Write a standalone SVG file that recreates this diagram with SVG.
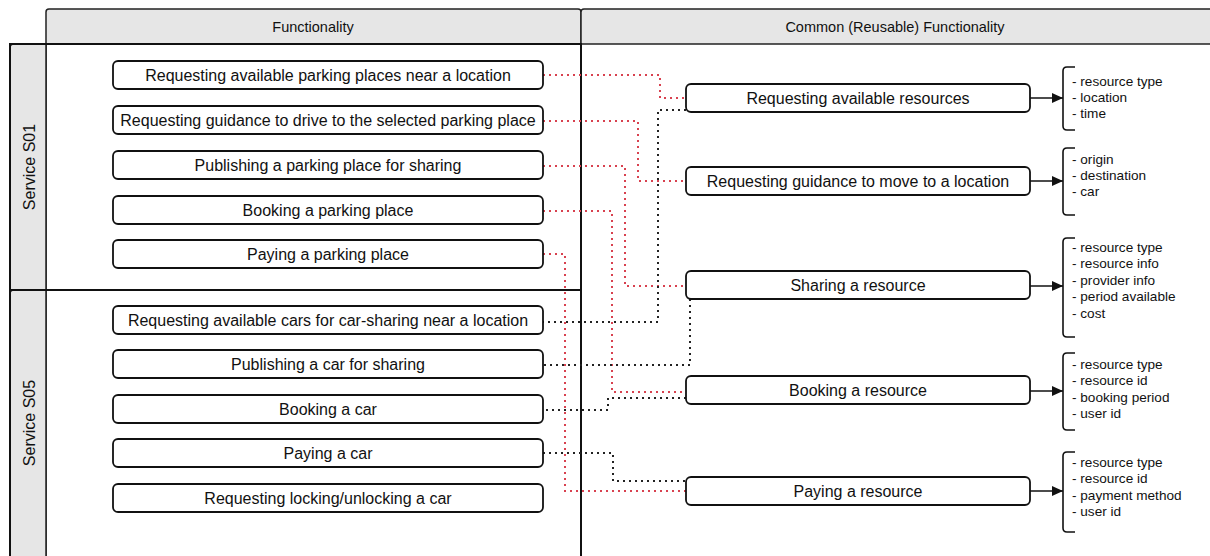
<svg xmlns="http://www.w3.org/2000/svg" width="1210" height="556" viewBox="0 0 1210 556">
<defs>
<style>
.hdr{fill:#e6e6e6;stroke:#222;stroke-width:1.5}
.lane{fill:none;stroke:#111;stroke-width:2}
.strip{fill:#e6e6e6;stroke:#222;stroke-width:1.5}
.box{fill:#fff;stroke:#111;stroke-width:1.8}
.t{font-family:"Liberation Sans",Arial,sans-serif;fill:#111;text-anchor:middle;dominant-baseline:central}
.bt{font-size:16px}
.ht{font-size:14.5px}
.st{font-size:16px}
.lt{font-family:"Liberation Sans",Arial,sans-serif;fill:#111;font-size:13.6px}
.red{fill:none;stroke:#d8414f;stroke-width:2;stroke-dasharray:2 4}
.blk{fill:none;stroke:#222;stroke-width:2;stroke-dasharray:2 4}
.arr{fill:none;stroke:#111;stroke-width:1.6}
.brace{fill:none;stroke:#111;stroke-width:1.6}
</style>
<marker id="ah" markerWidth="12" markerHeight="12" refX="11" refY="6" orient="auto" markerUnits="userSpaceOnUse">
<path d="M0,1 L11,6 L0,11 Z" fill="#111"/>
</marker>
</defs>
<rect width="1210" height="556" fill="#fff"/>

<g id="columns">
<path class="hdr" d="M46,44 V12 Q46,9 49,9 H578 Q581,9 581,12 V44 Z"/>
<text class="t ht" x="313" y="27">Functionality</text>
<path class="hdr" d="M581,44 V12 Q581,9 584,9 H1215 V44 Z"/>
<text class="t ht" x="895" y="27">Common (Reusable) Functionality</text>
<line x1="581" y1="44" x2="581" y2="556" stroke="#111" stroke-width="2"/>
<line x1="46" y1="44" x2="46" y2="556" stroke="#111" stroke-width="1.5"/>
</g>

<g id="lane-s01">
<path class="strip" d="M46,44 H14 Q10,44 10,48 V290 H46 Z"/>
<rect class="lane" x="10" y="44" width="571" height="246"/>
<text class="t st" transform="translate(29,167) rotate(-90)">Service S01</text>
</g>
<g id="lane-s05">
<path class="strip" d="M46,290 H14 Q10,290 10,294 V560 H46 Z"/>
<path class="lane" d="M10,560 V290 H581"/>
<text class="t st" transform="translate(29,423) rotate(-90)">Service S05</text>
</g>

<g id="connectors">
<polyline class="red" points="543,75 660,75 660,98 686,98"/>
<polyline class="red" points="543,121 638,121 638,181 686,181"/>
<polyline class="red" points="543,166 625,166 625,286 686,286"/>
<polyline class="red" points="543,211 612,211 612,392 686,392"/>
<polyline class="red" points="543,254 565,254 565,491 686,491"/>
<polyline class="blk" points="686,110 658,110 658,322 543,322"/>
<polyline class="blk" points="690,299 690,365 543,365"/>
<polyline class="blk" points="686,398 608,398 608,410 543,410"/>
<polyline class="blk" points="543,453 613,453 613,481 686,481"/>
<line class="arr" x1="1030" y1="98" x2="1063" y2="98" marker-end="url(#ah)"/>
<line class="arr" x1="1030" y1="181" x2="1063" y2="181" marker-end="url(#ah)"/>
<line class="arr" x1="1030" y1="286" x2="1063" y2="286" marker-end="url(#ah)"/>
<line class="arr" x1="1030" y1="391" x2="1063" y2="391" marker-end="url(#ah)"/>
<line class="arr" x1="1030" y1="491" x2="1063" y2="491" marker-end="url(#ah)"/>
</g>

<g id="f1"><rect class="box" x="113" y="61" width="430" height="28" rx="5"/><text class="t bt" x="328" y="75">Requesting available parking places near a location</text></g>
<g id="f2"><rect class="box" x="113" y="106" width="430" height="28" rx="5"/><text class="t bt" x="328" y="120">Requesting guidance to drive to the selected parking place</text></g>
<g id="f3"><rect class="box" x="113" y="151" width="430" height="28" rx="5"/><text class="t bt" x="328" y="165">Publishing a parking place for sharing</text></g>
<g id="f4"><rect class="box" x="113" y="196" width="430" height="28" rx="5"/><text class="t bt" x="328" y="210">Booking a parking place</text></g>
<g id="f5"><rect class="box" x="113" y="240" width="430" height="28" rx="5"/><text class="t bt" x="328" y="254">Paying a parking place</text></g>
<g id="f6"><rect class="box" x="113" y="306" width="430" height="28" rx="5"/><text class="t bt" x="328" y="320">Requesting available cars for car-sharing near a location</text></g>
<g id="f7"><rect class="box" x="113" y="350" width="430" height="28" rx="5"/><text class="t bt" x="328" y="364">Publishing a car for sharing</text></g>
<g id="f8"><rect class="box" x="113" y="395" width="430" height="28" rx="5"/><text class="t bt" x="328" y="409">Booking a car</text></g>
<g id="f9"><rect class="box" x="113" y="439" width="430" height="28" rx="5"/><text class="t bt" x="328" y="453">Paying a car</text></g>
<g id="f10"><rect class="box" x="113" y="484" width="430" height="28" rx="5"/><text class="t bt" x="328" y="498">Requesting locking/unlocking a car</text></g>

<g id="c1"><rect class="box" x="686" y="84" width="344" height="28" rx="5"/><text class="t bt" x="858" y="98">Requesting available resources</text></g>
<g id="c2"><rect class="box" x="686" y="167" width="344" height="28" rx="5"/><text class="t bt" x="858" y="181">Requesting guidance to move to a location</text></g>
<g id="c3"><rect class="box" x="686" y="271" width="344" height="28" rx="5"/><text class="t bt" x="858" y="285">Sharing a resource</text></g>
<g id="c4"><rect class="box" x="686" y="376" width="344" height="28" rx="5"/><text class="t bt" x="858" y="390">Booking a resource</text></g>
<g id="c5"><rect class="box" x="686" y="477" width="344" height="28" rx="5"/><text class="t bt" x="858" y="491">Paying a resource</text></g>

<g id="p1">
<path class="brace" d="M1075,67 H1067 Q1063,67 1063,71 V126 Q1063,130 1067,130 H1075"/>
<text class="lt" x="1072" y="86">- resource type</text>
<text class="lt" x="1072" y="102">- location</text>
<text class="lt" x="1072" y="118">- time</text>
</g>
<g id="p2">
<path class="brace" d="M1075,148 H1067 Q1063,148 1063,152 V211 Q1063,215 1067,215 H1075"/>
<text class="lt" x="1072" y="164">- origin</text>
<text class="lt" x="1072" y="180">- destination</text>
<text class="lt" x="1072" y="196">- car</text>
</g>
<g id="p3">
<path class="brace" d="M1075,238 H1067 Q1063,238 1063,242 V333 Q1063,337 1067,337 H1075"/>
<text class="lt" x="1072" y="252">- resource type</text>
<text class="lt" x="1072" y="268">- resource info</text>
<text class="lt" x="1072" y="285">- provider info</text>
<text class="lt" x="1072" y="301">- period available</text>
<text class="lt" x="1072" y="318">- cost</text>
</g>
<g id="p4">
<path class="brace" d="M1075,353 H1067 Q1063,353 1063,357 V426 Q1063,430 1067,430 H1075"/>
<text class="lt" x="1072" y="369">- resource type</text>
<text class="lt" x="1072" y="385">- resource id</text>
<text class="lt" x="1072" y="402">- booking period</text>
<text class="lt" x="1072" y="418">- user id</text>
</g>
<g id="p5">
<path class="brace" d="M1075,452 H1067 Q1063,452 1063,456 V528 Q1063,532 1067,532 H1075"/>
<text class="lt" x="1072" y="467">- resource type</text>
<text class="lt" x="1072" y="483">- resource id</text>
<text class="lt" x="1072" y="500">- payment method</text>
<text class="lt" x="1072" y="516">- user id</text>
</g>
</svg>
